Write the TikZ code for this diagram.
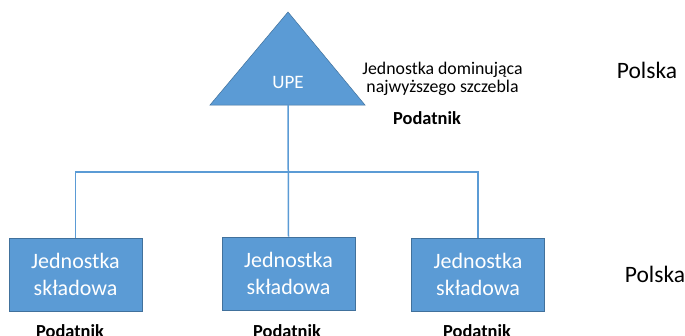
\documentclass[tikz,border=0pt]{standalone}
\usepackage{fontspec}
\setmainfont{Carlito}
\usetikzlibrary{positioning}
\definecolor{upeblue}{HTML}{5B9BD5}
\definecolor{upeedge}{HTML}{41719C}

\begin{document}
\begin{tikzpicture}[x=1pt, y=-1pt,
        unit/.style={rectangle, draw=upeedge, fill=upeblue, line width=0.8pt, minimum width=133pt, minimum height=73pt, align=center, text=white, font=\fontsize{22}{27}\selectfont},
        taxlabel/.style={font=\bfseries\fontsize{18.4}{20}\selectfont},
        country/.style={font=\fontsize{23.5}{26}\selectfont},
        link/.style={draw=upeblue, line width=1.5pt}]
                \clip (0,0) rectangle (685,335);

                % parent triangle
                \coordinate (apex) at (288,12);
                \coordinate (baseL) at (210,105);
                \coordinate (baseR) at (365,105);
                \coordinate (upebase) at (288,105);
                \filldraw[fill=upeblue, draw=upeedge, line width=0.5pt] (apex) -- (baseR) -- (baseL) -- cycle;
                \node[text=white, font=\fontsize{19}{22}\selectfont] (upe) at (288,82) {UPE};

                \node[align=center, font=\fontsize{17.8}{18}\selectfont] (desc) at (442.5,79) {Jednostka dominująca\\najwyższego szczebla};
                \node[taxlabel] (tax0) at (427,118.5) {Podatnik};
                \node[country] (pl1) at (647,70) {Polska};

                % subsidiaries
                \node[unit] (sub1) at (75.5,274.5) {Jednostka\\składowa};
                \node[unit] (sub2) at (288.5,273.5) {Jednostka\\składowa};
                \node[unit] (sub3) at (478,274.5) {Jednostka\\składowa};
                \node[taxlabel] (tax1) at (70,331) {Podatnik};
                \node[taxlabel] (tax2) at (287,331) {Podatnik};
                \node[taxlabel] (tax3) at (477,331) {Podatnik};
                \node[country] (pl2) at (655,274) {Polska};

                \coordinate (bus) at (288,172);
                \draw[link] (sub1.north) -- (sub1.north |- bus) -- (sub3.north |- bus) -- (sub3.north);
                \draw[link] (upebase) -- (sub2.north);
            \end{tikzpicture}
\end{document}
